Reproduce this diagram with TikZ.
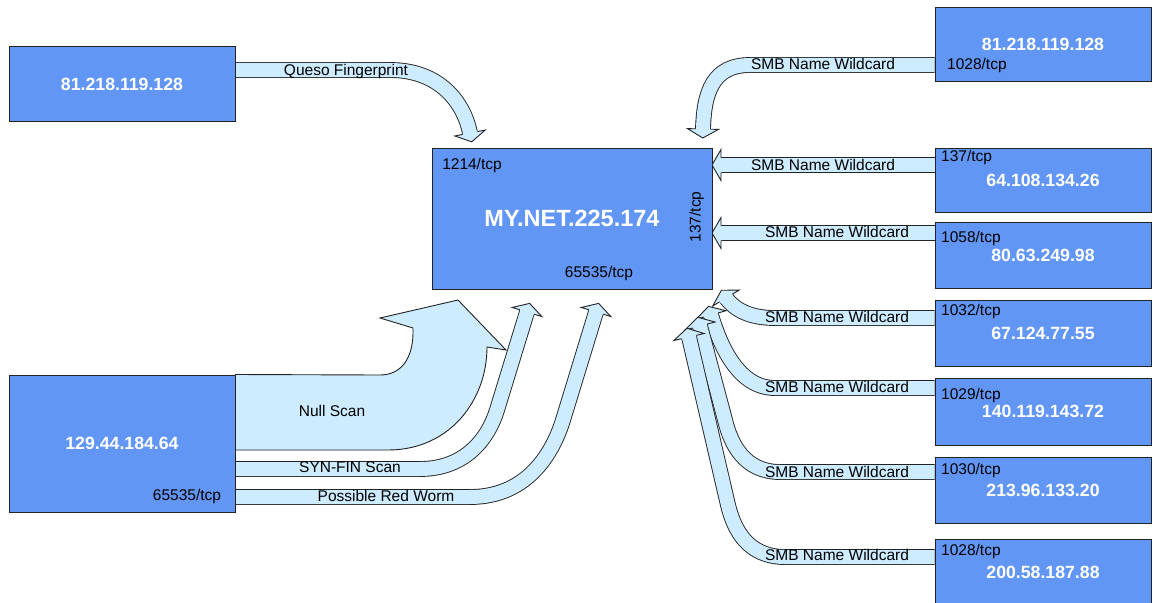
\documentclass[tikz,border=0pt]{standalone}
\usepackage{fontspec}
\setmainfont{Liberation Sans}
\usetikzlibrary{backgrounds}
\definecolor{hostblue}{RGB}{98,150,245}
\definecolor{flowblue}{RGB}{206,236,255}
\definecolor{edgegray}{RGB}{35,35,35}
\newcommand{\portSize}[0]{\fontsize{15.5}{18}\selectfont}
\newcommand{\ipSize}[0]{\fontsize{17.7}{21}\selectfont\bfseries}
\newcommand{\netSize}[0]{\fontsize{23.5}{28}\selectfont\bfseries}

\begin{document}
\begin{tikzpicture}[x=1pt, y=-1pt]
  \tikzset{
    host/.style={draw=edgegray, line width=1pt, fill=hostblue, text=white,
      font=\ipSize, inner sep=0pt, text height=12.7pt, text depth=0pt},
    port/.style={font=\portSize, inner sep=0pt, text height=11pt, text depth=0pt},
    flow/.style={draw=edgegray, line width=0.9pt, double=flowblue, double distance=14pt},
    pics/head/.style={code={
      \fill[flowblue] (-1.5,-7) -- (0,-7) -- (0,-15.5) -- (9,0) -- (0,15.5) -- (0,7) -- (-1.5,7) -- cycle;
      \draw[edgegray, line width=0.9pt] (0,7.5) -- (0,15.5) -- (9,0) -- (0,-15.5) -- (0,-7.5);
    }}
  }
  \useasboundingbox (0,0) rectangle (1153,602);

  % hosts
  \node[host, minimum width=226pt, minimum height=74pt] (queso) at (122,84) {81.218.119.128};
  \node[host, minimum width=226pt, minimum height=137pt] (scanner) at (122,443.5) {129.44.184.64};
  \node[host, minimum width=280pt, minimum height=141pt, font=\netSize, text height=16.8pt] (mynet) at (572,218.5) {MY.NET.225.174};
  \node[host, minimum width=216pt, minimum height=73pt] (smb1) at (1043,44.5) {81.218.119.128};
  \node[host, minimum width=216pt, minimum height=64pt] (smb2) at (1043,180) {64.108.134.26};
  \node[host, minimum width=216pt, minimum height=66pt] (smb3) at (1043,255) {80.63.249.98};
  \node[host, minimum width=216pt, minimum height=66pt] (smb4) at (1043,333) {67.124.77.55};
  \node[host, minimum width=216pt, minimum height=67pt] (smb5) at (1043,411.5) {140.119.143.72};
  \node[host, minimum width=216pt, minimum height=66pt] (smb6) at (1043,490) {213.96.133.20};
  \node[host, minimum width=216pt, minimum height=66pt] (smb7) at (1043,572) {200.58.187.88};

  % ports
  \node[port] at (472,164) {1214/tcp};
  \node[port] at (599,272) {65535/tcp};
  \node[port, rotate=90] at (695,217) {137/tcp};
  \node[port] at (187,495) {65535/tcp};
  \node[port, anchor=west] at (947,64) {1028/tcp};
  \node[port, anchor=west] at (941,156) {137/tcp};
  \node[port, anchor=west] at (941,237) {1058/tcp};
  \node[port, anchor=west] at (941,310) {1032/tcp};
  \node[port, anchor=west] at (941,394) {1029/tcp};
  \node[port, anchor=west] at (941,469) {1030/tcp};
  \node[port, anchor=west] at (941,550) {1028/tcp};

  % flow ends
  \coordinate (queso-tip) at (470,133);
  \coordinate (syn-tip) at (527,312);
  \coordinate (worm-tip) at (596,312);
  \coordinate (smb1-tip) at (703,129);
  \coordinate (smb2-tip) at (721,165);
  \coordinate (smb3-tip) at (721,233);
  \coordinate (smb4-tip) at (726,298);
  \coordinate (smb5-tip) at (711,315);
  \coordinate (smb6-tip) at (700,326);
  \coordinate (smb7-tip) at (689,337);

  \begin{pgfonlayer}{background}
    \fill[white] (0,0) rectangle (1153,602);
    % left side
    \draw[flow] ([yshift=14pt]queso.east) -- (390,70) .. controls (440,70) and (464,103) .. (queso-tip);
    \pic[rotate=-79] at (queso-tip) {head};
    \draw[edgegray, line width=0.9pt, fill=flowblue] (scanner.north east) -- (380,375)
      .. controls (400,375) and (414,360) .. (413,328) -- (380,318) -- (458,300) -- (506,350)
      -- (487,347) .. controls (487,400) and (450,450) .. (388,450) -- ([yshift=-6.5pt]scanner.east) -- cycle;
    \draw[flow] ([yshift=-25.5pt]scanner.east) -- (420,469) .. controls (465,469) and (488,439) .. (497,410) -- (syn-tip);
    \pic[rotate=73] at (syn-tip) {head};
    \draw[flow] ([yshift=-53.5pt]scanner.east) -- (470,497) .. controls (530,497) and (554,449) .. (563,420) -- (worm-tip);
    \pic[rotate=73] at (worm-tip) {head};
    % right side
    \draw[flow] ([yshift=-20.5pt]smb1.west) -- (750,65) .. controls (713,65) and (704,92) .. (smb1-tip);
    \pic[rotate=-91.5] at (smb1-tip) {head};
    \draw[flow] ([yshift=15pt]smb2.west) -- (smb2-tip);
    \pic[rotate=180] at (smb2-tip) {head};
    \draw[flow] ([yshift=22pt]smb3.west) -- (smb3-tip);
    \pic[rotate=180] at (smb3-tip) {head};
    \draw[flow] ([yshift=15pt]smb4.west) -- (775,318) .. controls (750,318) and (735,310) .. (smb4-tip);
    \pic[rotate=121] at (smb4-tip) {head};
    \draw[flow] ([yshift=23.5pt]smb5.west) -- (775,388) .. controls (738,388) and (720,345) .. (smb5-tip);
    \pic[rotate=106] at (smb5-tip) {head};
    \draw[flow] ([yshift=18pt]smb6.west) -- (780,472) .. controls (745,472) and (731,445) .. (725,420) -- (smb6-tip);
    \pic[rotate=105] at (smb6-tip) {head};
    \draw[flow] ([yshift=15pt]smb7.west) -- (785,557) .. controls (748,557) and (734,530) .. (728,505) -- (smb7-tip);
    \pic[rotate=103] at (smb7-tip) {head};
  \end{pgfonlayer}

  % flow labels
  \node[port] at (346,70) {Queso Fingerprint};
  \node[port] at (332,411) {Null Scan};
  \node[port] at (350,467) {SYN-FIN Scan};
  \node[port] at (386,496) {Possible Red Worm};
  \node[port] at (823,64) {SMB Name Wildcard};
  \node[port] at (823,165) {SMB Name Wildcard};
  \node[port] at (837,232) {SMB Name Wildcard};
  \node[port] at (837,317) {SMB Name Wildcard};
  \node[port] at (837,387) {SMB Name Wildcard};
  \node[port] at (837,472) {SMB Name Wildcard};
  \node[port] at (837,555) {SMB Name Wildcard};
\end{tikzpicture}
\end{document}
